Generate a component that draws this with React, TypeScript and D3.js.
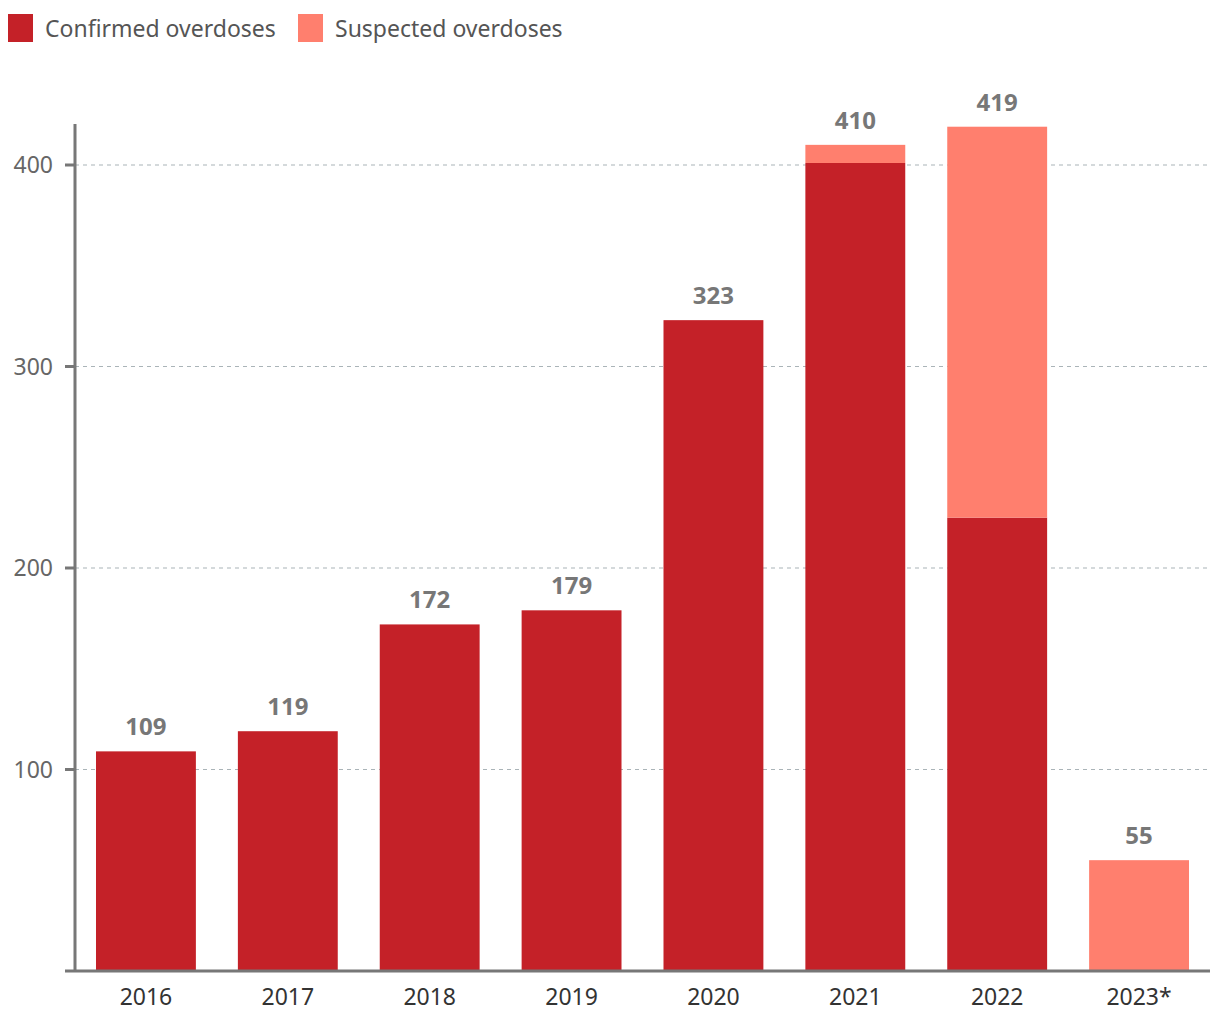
import React from "react";
import * as d3 from "d3";

const years = ["2016", "2017", "2018", "2019", "2020", "2021", "2022", "2023*"];
const confirmed = [109, 119, 172, 179, 323, 401, 225, 0];
const suspected = [0, 0, 0, 0, 0, 9, 194, 55];
const totals = [109, 119, 172, 179, 323, 410, 419, 55];
const yTicks = [100, 200, 300, 400];
const seriesNames = ["Confirmed overdoses", "Suspected overdoses"];
const colors = ["#c42128", "#ff7f6e"];

const W = 1220, H = 1020;
const left = 75, right = 1210, bottom = 971, top = 124;
const FONT = "'Noto Sans', 'Open Sans', sans-serif";

export default function App() {
  const x = d3.scaleBand<string>().domain(years).range([left, right]).paddingInner(0.296).paddingOuter(0.148);
  const y = d3.scaleLinear().domain([0, 400]).range([bottom, 165]);
  const stack = d3.stack<any>().keys(["c", "s"])(years.map((yr, i) => ({ yr, c: confirmed[i], s: suspected[i] })));
  return (
    <svg width={W} height={H} style={{ position: "absolute", left: 0, top: 0, background: "#fff" }} fontFamily={FONT}>
      {seriesNames.map((n, i) => {
        const lx = i === 0 ? 8 : 298;
        return (
          <g key={n}>
            <rect x={lx} y={14} width={25} height={28} fill={colors[i]} />
            <text x={lx + 37} y={37} fontSize={23} fill="#555">{n}</text>
          </g>
        );
      })}
      {yTicks.map(t => (
        <g key={t}>
          <line x1={left} x2={right} y1={y(t)} y2={y(t)} stroke="#aab4b8" strokeWidth={1.2} strokeDasharray="4,4" />
          <line x1={65} x2={left} y1={y(t)} y2={y(t)} stroke="#777" strokeWidth={3} />
          <text x={53} y={y(t)} dy="0.36em" textAnchor="end" fontSize={23} fill="#666">{t}</text>
        </g>
      ))}
      {stack.map((layer, li) => (
        <g key={li} fill={colors[li]}>
          {layer.map((d, i) => d[1] > d[0] ? (
            <rect key={i} x={x(years[i])} width={x.bandwidth()} y={y(d[1])} height={y(d[0]) - y(d[1])} />
          ) : null)}
        </g>
      ))}
      {years.map((yr, i) => (
        <text key={yr} x={(x(yr) as number) + x.bandwidth() / 2} y={y(totals[i]) - 16} textAnchor="middle" fontSize={24} fontWeight="bold" fill="#777">{totals[i]}</text>
      ))}
      <line x1={left} x2={left} y1={top} y2={bottom + 1} stroke="#777" strokeWidth={3} />
      <line x1={65} x2={right} y1={bottom} y2={bottom} stroke="#777" strokeWidth={3} />
      {years.map(yr => (
        <text key={yr} x={(x(yr) as number) + x.bandwidth() / 2} y={1005} textAnchor="middle" fontSize={23} fill="#333">{yr}</text>
      ))}
    </svg>
  );
}
